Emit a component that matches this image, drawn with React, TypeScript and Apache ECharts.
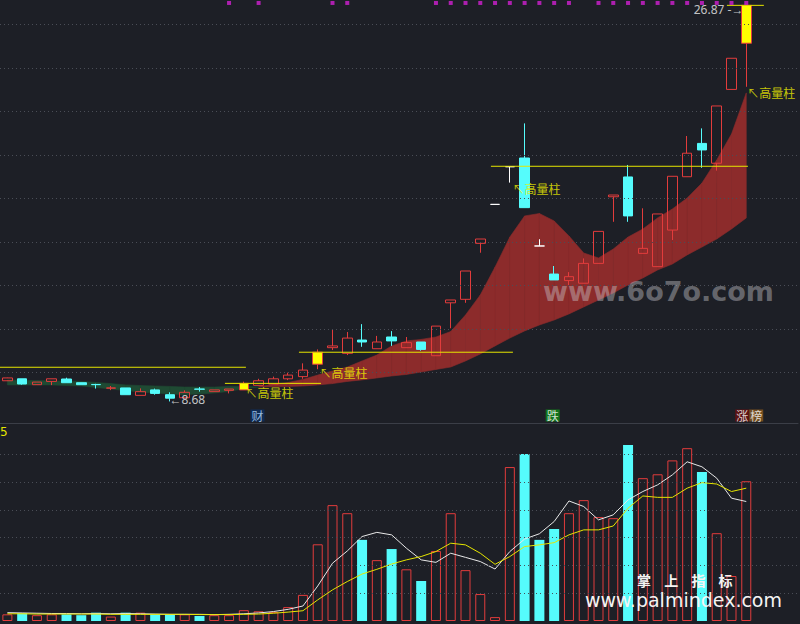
import React, { useEffect, useRef } from "react";
import * as echarts from "echarts";

// ---------- data ----------
const SLOT_COUNT = 54; // 51 trading days + 3 empty slots at the right
const categories = Array.from({ length: SLOT_COUNT }, (_, i) => `${i + 1}`);

const opens = [9.63,9.72,9.45,9.60,9.71,9.54,9.46,9.29,9.30,8.96,9.21,8.99,8.85,9.25,9.13,9.19,9.21,9.42,9.48,9.72,9.82,10.39,11.15,10.89,11.50,11.10,11.64,11.15,11.41,10.78,13.21,13.37,15.94,17.73,19.46,19.86,15.82,14.53,14.23,14.11,15.02,18.08,18.99,15.48,14.87,16.55,19.00,20.53,19.62,23.01,25.13];
const closes = [9.76,9.48,9.57,9.72,9.54,9.45,9.45,9.30,8.99,9.13,9.05,8.83,9.10,9.24,9.21,9.25,9.51,9.63,9.72,9.89,10.12,10.94,11.23,11.59,11.41,11.41,11.46,11.38,11.07,12.14,13.34,14.67,16.14,17.73,19.46,17.58,15.82,14.26,14.41,15.02,16.49,18.16,17.20,15.71,17.29,19.02,20.08,20.23,22.25,24.44,26.87];
const lows = [9.62,9.45,9.45,9.43,9.54,9.45,9.27,9.20,8.99,8.96,8.99,8.68,8.85,9.13,9.13,9.05,9.21,9.42,9.48,9.66,9.72,10.16,11.04,10.81,11.19,11.10,11.23,11.15,11.01,10.78,12.04,13.21,15.51,17.73,18.73,17.58,15.82,14.26,13.98,14.11,15.02,16.93,16.93,15.48,14.87,16.09,19.00,19.41,19.28,23.01,23.13];
const highs = [9.77,9.72,9.57,9.72,9.77,9.54,9.49,9.39,9.30,9.28,9.27,9.10,9.19,9.34,9.21,9.25,9.59,9.72,9.82,10.00,10.43,11.07,12.00,11.87,12.23,11.69,11.91,11.64,11.41,12.14,13.34,14.67,16.14,17.73,19.46,21.45,16.13,14.90,14.62,15.25,16.49,18.16,19.54,17.55,17.29,19.02,20.87,21.22,22.25,24.44,26.87];

const volumes = [0.24,0.28,0.21,0.24,0.24,0.21,0.30,0.16,0.30,0.30,0.24,0.24,0.24,0.18,0.21,0.21,0.39,0.35,0.32,0.50,0.94,2.76,4.17,3.88,2.92,2.19,2.59,1.86,1.44,2.52,3.88,1.83,0.97,0.14,5.54,6.01,2.92,3.31,3.88,4.35,3.74,3.70,6.33,5.14,5.28,5.78,6.22,5.36,3.16,1.62,5.03];
const volMaWhite = [0.30,0.29,0.28,0.27,0.27,0.26,0.27,0.26,0.27,0.26,0.25,0.24,0.24,0.24,0.23,0.24,0.26,0.29,0.34,0.42,0.54,1.26,2.08,2.52,3.04,3.19,3.10,2.62,2.20,2.11,2.44,2.29,2.14,1.87,2.50,2.95,3.14,3.58,4.32,4.12,3.64,3.82,4.36,4.66,4.90,5.26,5.73,5.55,5.14,4.42,4.30];
const volMaYellow = [0.26,0.26,0.25,0.25,0.25,0.25,0.25,0.24,0.24,0.24,0.24,0.24,0.24,0.23,0.23,0.23,0.24,0.25,0.28,0.32,0.37,0.76,1.12,1.42,1.69,1.86,2.05,2.20,2.32,2.50,2.80,2.74,2.44,2.04,2.32,2.68,2.74,2.82,3.10,3.28,3.28,3.42,4.06,4.50,4.45,4.45,4.78,4.98,4.93,4.66,4.78];

// two moving lines whose gap forms the coloured cloud
const bandFast = [9.44,9.44,9.44,9.44,9.41,9.39,9.32,9.25,9.18,9.11,9.07,9.02,9.00,9.02,9.07,9.14,9.27,9.35,9.46,9.55,9.69,9.89,10.08,10.26,10.54,10.81,11.23,11.46,11.53,11.64,11.89,12.65,13.57,14.85,16.23,17.20,17.31,16.97,16.28,15.50,15.27,15.68,16.23,16.60,17.11,17.52,18.02,18.71,19.77,20.96,22.85];
const bandSlow = [9.67,9.64,9.64,9.62,9.62,9.60,9.55,9.50,9.44,9.41,9.39,9.37,9.34,9.34,9.34,9.37,9.37,9.34,9.37,9.37,9.39,9.44,9.50,9.60,9.67,9.76,9.85,9.92,10.03,10.15,10.26,10.54,10.86,11.23,11.59,11.92,12.19,12.42,12.70,13.02,13.34,13.66,14.03,14.35,14.72,14.99,15.41,15.77,16.14,16.60,17.11];

const highVolumeCandles = [16, 21, 50];
const signalDots = [15,17,22,23,29,30,31,32,33,34,35,36,37,38,40,41,42,43,44,45,46,47,48,49,50];
const priceGridLevels = [10, 12, 14, 16, 18, 20, 22, 24, 26];
const volumeGridLevels = [1, 2, 3, 4, 5, 6];

const levelLines = [
  { from: -0.5, to: 16.14, price: 10.25 },
  { from: 14.72, to: 21.22, price: 9.51 },
  { from: 19.73, to: 34.21, price: 10.94 },
  { from: 32.72, to: 50.11, price: 19.48 },
  { from: 48.69, to: 51.19, price: 26.87 },
];

const highVolNotes = [
  { text: "↖高量柱", at: [16.08, 9.11] },
  { text: "↖高量柱", at: [21.08, 10.01] },
  { text: "↖高量柱", at: [34.14, 18.44] },
  { text: "↖高量柱", at: [50.04, 22.85] },
];
const extremeNotes = [
  { text: "26.87 -→", at: [49.84, 26.66], side: "left" },
  { text: "←8.68", at: [10.93, 8.79], side: "right" },
];
const eventBadges = [
  { text: "{cai|财}", at: [16.92, 8.035] },
  { text: "{die|跌}", at: [36.9, 8.035] },
  { text: "{zhang|涨}{bang|榜}", at: [50.2, 8.035] },
];
const DOT_PRICE = 26.98;

// axis frames
const PRICE_MIN = 7.69;
const PRICE_MAX = 27.116;
const VOL_MAX = 7.126;

// ---------- style ----------
const BG = "#1d1f26";
const RED = "#e23c3c";
const CYAN = "#55fcfc";
const YEL = "#ffff00";
const LINE_YEL = "#e6e600";
const GRID_COLOR = "#4a4d56";
const BAND_RED = "#8c2b2b";
const BAND_GREEN = "#1f4a33";

export default function App() {
  const ref = useRef<HTMLDivElement>(null);

  useEffect(() => {
    if (!ref.current) return;
    const chart = echarts.init(ref.current, undefined, { renderer: "svg" });

    const hv = new Set(highVolumeCandles);
    const candleData = opens.map((o, i) => {
      const v = [o, closes[i], lows[i], highs[i]];
      if (hv.has(i)) {
        return { value: v, itemStyle: { color: YEL, color0: YEL, borderColor: RED, borderColor0: RED, borderColorDoji: RED } };
      }
      if (o === closes[i]) {
        return { value: v, itemStyle: { color: "#ffffff", color0: "#ffffff", borderColor: "#ffffff", borderColor0: "#ffffff", borderColorDoji: "#ffffff" } };
      }
      return v;
    });

    const volData = volumes.map((v, i) => {
      const up = closes[i] > opens[i] || (closes[i] === opens[i] && (i === 0 || closes[i] >= closes[i - 1]));
      return {
        value: v,
        itemStyle: up
          ? { color: "transparent", borderColor: RED, borderWidth: 1 }
          : { color: CYAN, borderColor: CYAN, borderWidth: 0 },
      };
    });

    const bandSegments = bandFast.slice(0, -1).map((f, i) => [i, f, bandSlow[i], bandFast[i + 1], bandSlow[i + 1]]);

    const lineSeries = levelLines.map((l) => ({
      type: "line",
      xAxisIndex: 2,
      yAxisIndex: 0,
      data: [[l.from, l.price], [l.to, l.price]],
      symbol: "none",
      silent: true,
      z: 4,
      lineStyle: { color: LINE_YEL, width: 1 },
    }));

    const option: any = {
      animation: false,
      backgroundColor: BG,
      grid: [
        { left: 0, width: 798, top: 0, height: 423 },
        { left: 0, width: 798, top: 423, height: 198 },
      ],
      xAxis: [
        {
          type: "category", gridIndex: 0, data: categories, boundaryGap: true,
          axisLine: { show: true, lineStyle: { color: "#3b3e47", width: 1 } },
          axisTick: { show: false }, axisLabel: { show: false }, splitLine: { show: false },
        },
        {
          type: "category", gridIndex: 1, data: categories, boundaryGap: true,
          axisLine: { show: false }, axisTick: { show: false }, axisLabel: { show: false }, splitLine: { show: false },
        },
        { type: "value", gridIndex: 0, min: -0.5, max: SLOT_COUNT - 0.5, show: false },
      ],
      yAxis: [
        { type: "value", gridIndex: 0, min: PRICE_MIN, max: PRICE_MAX, show: false, splitLine: { show: false } },
        { type: "value", gridIndex: 1, min: 0, max: VOL_MAX, show: false, splitLine: { show: false } },
      ],
      series: [
        {
          type: "line", xAxisIndex: 0, yAxisIndex: 0, data: [], z: 0, silent: true,
          markLine: {
            silent: true, symbol: ["none", "none"], label: { show: false },
            lineStyle: { color: GRID_COLOR, width: 1, type: [1, 3] },
            emphasis: { disabled: true },
            data: priceGridLevels.map((v) => ({ yAxis: v })),
          },
        },
        {
          type: "line", xAxisIndex: 1, yAxisIndex: 1, data: [], z: 0, silent: true,
          markLine: {
            silent: true, symbol: ["none", "none"], label: { show: false },
            lineStyle: { color: GRID_COLOR, width: 1, type: [1, 3] },
            emphasis: { disabled: true },
            data: volumeGridLevels.map((v) => ({ yAxis: v })),
          },
        },
        {
          type: "custom", xAxisIndex: 2, yAxisIndex: 0, z: 1, silent: true,
          data: bandSegments,
          encode: { x: 0, y: [1, 2, 3, 4] },
          renderItem: (params: any, api: any) => {
            const i = api.value(0);
            const f0 = api.value(1), s0 = api.value(2), f1 = api.value(3), s1 = api.value(4);
            const p1 = api.coord([i, f0]);
            const p2 = api.coord([i + 1, f1]);
            const p3 = api.coord([i + 1, s1]);
            const p4 = api.coord([i, s0]);
            const up = (f0 - s0) + (f1 - s1) >= 0;
            const c = up ? BAND_RED : BAND_GREEN;
            return { type: "polygon", shape: { points: [p1, p2, p3, p4] }, style: { fill: c, stroke: c, lineWidth: 0.6 } };
          },
        },
        {
          type: "candlestick", xAxisIndex: 0, yAxisIndex: 0, z: 3, barWidth: 10,
          data: candleData,
          itemStyle: { color: "transparent", color0: CYAN, borderColor: RED, borderColor0: CYAN, borderColorDoji: "#ffffff", borderWidth: 1 },
        },
        ...lineSeries,
        {
          type: "scatter", xAxisIndex: 0, yAxisIndex: 0, z: 5, silent: true,
          symbol: "rect", symbolSize: 4, itemStyle: { color: "#d21fd2" },
          data: signalDots.map((i) => [i, DOT_PRICE]),
        },
        {
          type: "scatter", xAxisIndex: 2, yAxisIndex: 0, z: 6, silent: true,
          symbolSize: 1, itemStyle: { color: "transparent" },
          data: highVolNotes.map((n) => ({ name: n.text, value: n.at })),
          label: {
            show: true, position: "right", distance: 0, formatter: "{b}",
            color: "#f2f200", fontSize: 12, fontFamily: "Noto Sans CJK SC",
          },
        },
        {
          type: "scatter", xAxisIndex: 2, yAxisIndex: 0, z: 6, silent: true,
          symbolSize: 1, itemStyle: { color: "transparent" },
          data: extremeNotes.map((n) => ({
            name: n.text, value: n.at,
            label: { position: n.side === "left" ? "left" : "right" },
          })),
          label: {
            show: true, distance: 0, formatter: "{b}",
            color: "#f0f0f0", fontSize: 12, fontFamily: "Noto Sans",
          },
        },
        {
          type: "scatter", xAxisIndex: 2, yAxisIndex: 0, z: 6, silent: true,
          symbolSize: 1, itemStyle: { color: "transparent" },
          data: eventBadges.map((n) => ({ name: n.text, value: n.at })),
          label: {
            show: true, position: "inside", formatter: "{b}",
            rich: {
              cai: { backgroundColor: "#0c2f63", color: "#b8dcff", fontSize: 12, lineHeight: 14, padding: [0, 1], fontFamily: "Noto Sans CJK SC" },
              die: { backgroundColor: "#12881a", color: "#ffffff", fontSize: 12, lineHeight: 14, padding: [0, 1], fontFamily: "Noto Sans CJK SC" },
              zhang: { backgroundColor: "#6c1010", color: "#ffffff", fontSize: 12, lineHeight: 14, padding: [0, 1], fontFamily: "Noto Sans CJK SC" },
              bang: { backgroundColor: "#8a5a1e", color: "#ffffff", fontSize: 12, lineHeight: 14, padding: [0, 1], fontFamily: "Noto Sans CJK SC" },
            },
          },
        },
        {
          type: "bar", xAxisIndex: 1, yAxisIndex: 1, z: 2, barWidth: 10,
          data: volData,
        },
        {
          type: "line", xAxisIndex: 1, yAxisIndex: 1, z: 3, symbol: "none", silent: true,
          data: volMaWhite, lineStyle: { color: "#e8e8e8", width: 1 },
        },
        {
          type: "line", xAxisIndex: 1, yAxisIndex: 1, z: 3, symbol: "none", silent: true,
          data: volMaYellow, lineStyle: { color: LINE_YEL, width: 1 },
        },
      ],
      graphic: [
        {
          type: "text", z: 50, silent: true,
          style: { x: 543, y: 291, text: "www.6o7o.com", font: 'bold 27px "DejaVu Sans"', fill: "rgba(205,205,210,0.42)", verticalAlign: "middle" },
        },
        ...["掌", "上", "指", "标"].map((ch, k) => ({
          type: "text", z: 50, silent: true,
          style: { x: 637 + k * 27.2, y: 580, text: ch, font: 'bold 14px "Noto Sans CJK SC"', fill: "#f4f4f4", verticalAlign: "middle", lineHeight: 14 },
        })),
        {
          type: "text", z: 50, silent: true,
          style: { x: 585, y: 600, text: "www.palmindex.com", font: '19px "DejaVu Sans"', fill: "#f4f4f4", verticalAlign: "middle", lineHeight: 16, shadowColor: "rgba(0,0,0,0.9)", shadowBlur: 2 },
        },
        {
          type: "text", z: 50, silent: true,
          style: { x: 0, y: 432, text: "5", font: '12px "DejaVu Sans"', fill: "#e6e600", verticalAlign: "middle" },
        },
      ],
    };

    chart.setOption(option);
    return () => chart.dispose();
  }, []);

  return (
    <div
      ref={ref}
      style={{ position: "fixed", left: 0, top: 0, width: 800, height: 624, background: BG }}
    />
  );
}
